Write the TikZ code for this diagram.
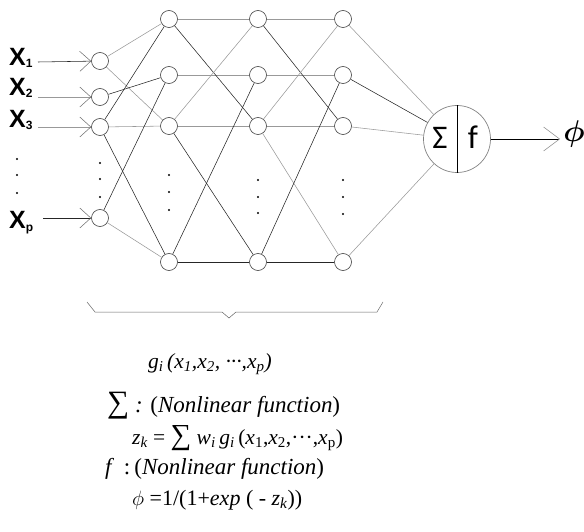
\documentclass[tikz,border=0pt]{standalone}
\usepackage{fontspec}
\setmainfont{Liberation Serif}
\newfontfamily\xfont{Liberation Sans Bold}
\newfontfamily\cfont{Carlito}
\usetikzlibrary{arrows.meta}
\newcommand{\bigphi}[1]{\scalebox{#1}{\boldmath$\phi$}}
\newcommand{\bigsum}{\scalebox{1.35}{∑}}
\begin{document}
\begin{tikzpicture}[x=1pt,y=-1pt,
  neuron/.style={circle,draw=black!75,line width=0.6pt,inner sep=0pt,minimum size=17pt},
  dk/.style={draw=black!85,line width=0.55pt},
  lt/.style={draw=black!40,line width=0.55pt},
  inarrow/.style={-{Straight Barb[length=11pt,width=20pt,color=black!55,line width=0.55pt]}},
  outarrow/.style={draw=black,line width=0.6pt,-{Straight Barb[length=16pt,width=24pt,color=black!45,line width=0.55pt]}},
  xlab/.style={anchor=base west,inner sep=0pt,font=\xfont\fontsize{25}{25}\selectfont},
  frm/.style={anchor=base west,inner sep=0pt,font=\fontsize{23}{23}\selectfont},
  dotm/.style={fill=black}]
\useasboundingbox (0,0) rectangle (584,532);

% input layer
\node[neuron] (i1) at (100,61) {};
\node[neuron] (i2) at (100,97) {};
\node[neuron] (i3) at (100,127) {};
\node[neuron] (ip) at (100,218) {};
% hidden layers
\foreach \n/\y in {1/19,2/75,3/126,4/262}{
  \node[neuron] (a\n) at (169,\y) {};
  \node[neuron] (b\n) at (258,\y) {};
  \node[neuron] (c\n) at (343,\y) {};
}
% output neuron
\node[circle,draw=black!50,line width=0.7pt,inner sep=0pt,minimum size=67pt] (out) at (457,139) {};
\draw[black,line width=0.6pt] (out.north) -- (out.south);
\node[inner sep=0pt,font=\cfont\fontsize{33}{33}\selectfont] (sig) at (440,138) {Σ};
\node[inner sep=0pt,font=\cfont\fontsize{33}{33}\selectfont] (fn) at (473,137) {f};

% input labels and arrows
\node[xlab] (x1) at (9,66) {X\raisebox{-2pt}{\fontsize{12}{12}\selectfont 1}};
\node[xlab] (x2) at (9,96) {X\raisebox{-2pt}{\fontsize{12}{12}\selectfont 2}};
\node[xlab] (x3) at (9,128) {X\raisebox{-2pt}{\fontsize{12}{12}\selectfont 3}};
\node[xlab] (xp) at (9,229) {X\raisebox{-2pt}{\fontsize{12}{12}\selectfont p}};
\coordinate (s1) at (38,62);
\coordinate (s2) at (38,97);
\coordinate (s3) at (38,127);
\coordinate (sp) at (43,218);
\draw[dk,inarrow] (s1) -- (i1);
\draw[lt,inarrow] (s2) -- (i2);
\draw[lt,inarrow] (s3) -- (i3);
\draw[dk,inarrow] (sp) -- (ip);

% input -> layer 1
\draw[lt] (i1) -- (a1);
\draw[lt] (i1) -- (a3);
\draw[dk] (i2) -- (a2);
\draw[dk] (i3) -- (a1);
\draw[lt] (i3) -- (a3);
\draw[dk] (i3) -- (a4);
\draw[dk] (ip) -- (a2);
\draw[lt] (ip) -- (a4);

% layer 1 -> layer 2
\draw[lt] (a1) -- (b1);
\draw[lt] (a2) -- (b2);
\draw[lt] (a3) -- (b3);
\draw[dk] (a4) -- (b4);
\draw[dk] (a1) -- (b3);
\draw[lt] (a3) -- (b1);
\draw[dk] (a3) -- (b4);
\draw[dk] (a4) -- (b2);

% layer 2 -> layer 3
\draw[lt] (b1) -- (c1);
\draw[lt] (b2) -- (c2);
\draw[lt] (b3) -- (c3);
\draw[dk] (b4) -- (c4);
\draw[dk] (b1) -- (c3);
\draw[lt] (b3) -- (c1);
\draw[lt] (b3) -- (c4);
\draw[dk] (b4) -- (c2);

% layer 3 -> output
\draw[lt] (c1) -- (out);
\draw[dk] (c2) -- (out);
\draw[lt] (c3) -- (out);
\draw[lt] (c4) -- (out);

% output arrow
\coordinate (oend) at (560,139);
\draw[outarrow] (out) -- (oend);
\node[inner sep=0pt] (phi) at (574,134) {\bigphi{3}};

% dots
\foreach \x/\ya/\yb/\yc in {17/159/175/193, 100/163/179/197, 169/175/192/210, 258/180/197/213, 343/180/197/214}{
  \fill[dotm] (\x,\ya) circle (1.1);
  \fill[dotm] (\x,\yb) circle (1.1);
  \fill[dotm] (\x,\yc) circle (1.1);
}

% brace
\draw[black!60,line width=0.5pt] (87,302) -- (95,312) -- (222,312) -- (229,318) -- (236,312) -- (377,312) -- (383,302);

% texts
\node[frm,font=\fontsize{21.5}{21.5}\selectfont] (glab) at (148,368) {\textit{g\textsubscript{i}\,(x\textsubscript{1},x\textsubscript{2}, ···,x\textsubscript{p})}};
\node[frm] (l1) at (107,412) {\bigsum\textit{ :} (\textit{Nonlinear function})};
\node[frm,font=\fontsize{21.5}{21.5}\selectfont] (l2) at (132,444) {\textit{z\textsubscript{k}} = \bigsum{} \textit{w\textsubscript{i}\,g\textsubscript{i}}\,(\textit{x}\textsubscript{1},\textit{x}\textsubscript{2},···,\textit{x}\textsubscript{p})};
\node[frm] (l3) at (105,474) {\textit{f}\hspace{4pt} :\hspace{4pt}(\textit{Nonlinear function})};
\node[frm,font=\fontsize{22}{22}\selectfont] (l4) at (132,505) {$\phi$ =1/(1+\textit{exp} ( - \textit{z\textsubscript{k}}))};
\end{tikzpicture}
\end{document}
